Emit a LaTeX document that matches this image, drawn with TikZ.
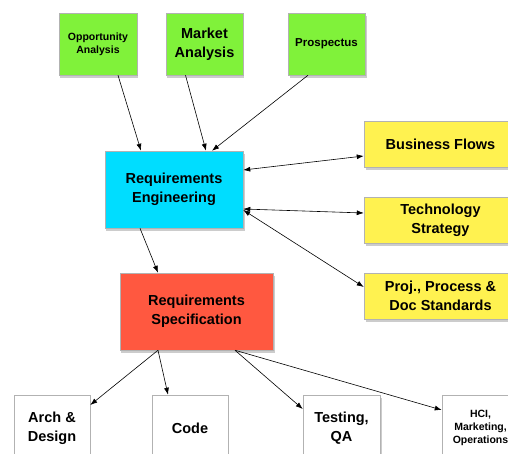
\documentclass[tikz,border=0pt]{standalone}
\usepackage{fontspec}
\setmainfont{Liberation Sans}
\usepackage{xcolor}
\usepackage{tikz}
\usetikzlibrary{shadows,arrows.meta}

\definecolor{oppgreen}{RGB}{128,242,58}
\definecolor{engcyan}{RGB}{0,221,255}
\definecolor{specred}{RGB}{255,88,64}
\definecolor{stdyellow}{RGB}{255,242,80}

\tikzset{
	box/.style={draw=black!30, line width=0.5bp, align=center, font=\bfseries\fontsize{14.5bp}{19bp}\selectfont,
		drop shadow={opacity=0.4, shadow xshift=1.5pt, shadow yshift=-3pt}},
	smalltext/.style={font=\bfseries\fontsize{10.5bp}{13bp}\selectfont},
	link/.style={-{Latex[length=7bp,width=5bp]}, line width=0.6bp},
	twoway/.style={{Latex[length=7bp,width=5bp]}-{Latex[length=7bp,width=5bp]}, line width=0.6bp}
}

\begin{document}
\begin{tikzpicture}[x=1bp, y=-1bp]
	\useasboundingbox (0,0) rectangle (508,454);
	\clip (0,0) rectangle (508,454);
	\fill[white] (0,0) rectangle (508,454);

	\node[box, smalltext, fill=oppgreen, minimum width=78bp, minimum height=62bp] (opp) at (98,44) {Opportunity\\Analysis};
	\node[box, fill=oppgreen, minimum width=77bp, minimum height=62bp] (mkt) at (204.5,44) {Market\\Analysis};
	\node[box, fill=oppgreen, minimum width=77bp, minimum height=62bp, font=\bfseries\fontsize{11.5bp}{14bp}\selectfont] (pros) at (326.5,44) {Prospectus};

	\node[box, fill=engcyan, minimum width=138bp, minimum height=77bp] (eng) at (174,189.5) {Requirements\\Engineering};
	\node[box, fill=specred, minimum width=153bp, minimum height=77bp] (spec) at (196.5,311.5) {Requirements\\Specification};

	\node[box, fill=stdyellow, minimum width=153bp, minimum height=46bp] (flows) at (440.5,144) {Business Flows};
	\node[box, fill=stdyellow, minimum width=153bp, minimum height=46bp] (tech) at (440.5,220) {Technology\\Strategy};
	\node[box, fill=stdyellow, minimum width=153bp, minimum height=46bp] (stds) at (440.5,296) {Proj., Process \&\\Doc Standards};

	\node[box, fill=white, minimum width=76bp, minimum height=66bp] (arch) at (52,428) {Arch \&\\Design};
	\node[box, fill=white, minimum width=76bp, minimum height=66bp] (code) at (190,428) {Code};
	\node[box, fill=white, minimum width=77bp, minimum height=66bp] (test) at (341.5,428) {Testing,\\QA};
	\node[box, smalltext, fill=white, minimum width=77bp, minimum height=66bp] (hci) at (480.5,428) {HCI,\\Marketing,\\Operations};

	\draw[link] ([xshift=20bp]opp.south) -- ([xshift=-33bp]eng.north);
	\draw[link] ([xshift=-19bp]mkt.south) -- ([xshift=32bp]eng.north);
	\draw[link] ([xshift=-18.5bp]pros.south) -- ([xshift=38bp]eng.north);

	\draw[twoway] ([yshift=19.5bp]eng.east) -- ([yshift=-12bp]flows.west);
	\draw[twoway] ([yshift=-19.5bp]eng.east) -- ([yshift=7bp]tech.west);
	\draw[twoway] ([yshift=-20.5bp]eng.east) -- ([yshift=9bp]stds.west);

	\draw[link] ([xshift=-34bp]eng.south) -- ([xshift=-38.5bp]spec.north);

	\draw[link] ([xshift=-38.5bp]spec.south) -- ([yshift=23bp]arch.east);
	\draw[link] ([xshift=-38.5bp]spec.south) -- ([xshift=-22bp]code.north);
	\draw[link] ([xshift=38.5bp]spec.south) -- ([yshift=19bp]test.west);
	\draw[link] ([xshift=38.5bp]spec.south) -- ([yshift=18bp]hci.west);
\end{tikzpicture}
\end{document}
